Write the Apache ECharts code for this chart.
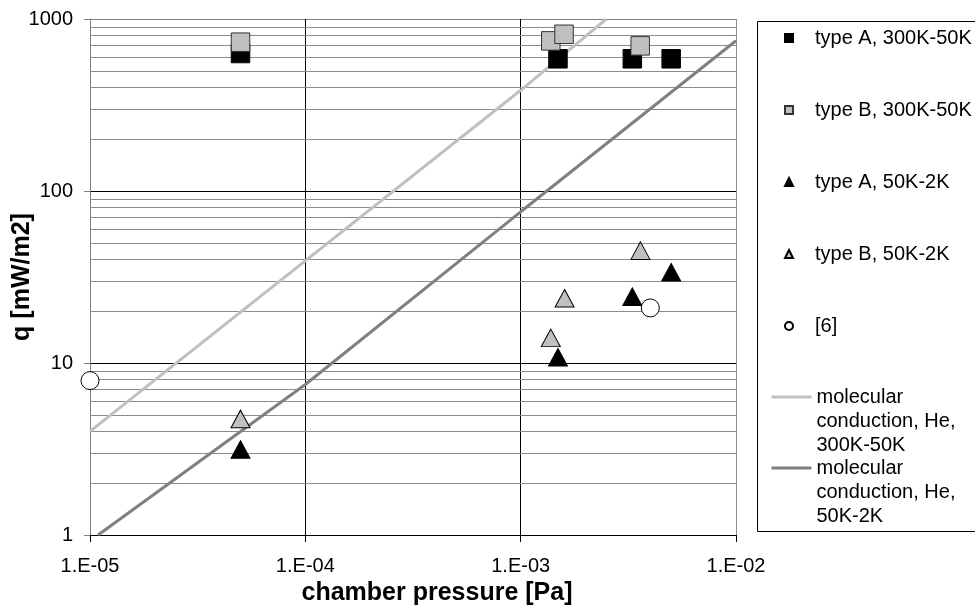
<!DOCTYPE html>
<html><head><meta charset="utf-8">
<script src="https://cdn.jsdelivr.net/npm/echarts@6/dist/echarts.min.js"></script>
<style>html,body{margin:0;padding:0;background:#fff}#c{width:975px;height:605px}</style>
</head><body><div id="c"></div>
<script>
// ---- data ----
const xTickLabels = ['1.E-05', '1.E-04', '1.E-03', '1.E-02'];
const yTickLabels = ['1', '10', '100', '1000'];

const seriesNames = ['type A, 300K-50K', 'type B, 300K-50K', 'type A, 50K-2K', 'type B, 50K-2K', '[6]',
  'molecular conduction, He, 300K-50K', 'molecular conduction, He, 50K-2K'];

const typeA_hot_p = [5.0e-5, 1.49e-3, 3.3e-3, 5.0e-3];
const typeA_hot_q = [630, 587, 587, 587];
const typeB_hot_p = [5.0e-5, 1.38e-3, 1.59e-3, 3.59e-3];
const typeB_hot_q = [733, 746, 815, 698];
const typeA_cold_p = [5.0e-5, 1.49e-3, 3.3e-3, 5.0e-3];
const typeA_cold_q = [3.14, 10.8, 24.3, 33.7];
const typeB_cold_p = [5.0e-5, 1.38e-3, 1.6e-3, 3.6e-3];
const typeB_cold_q = [4.73, 14.0, 23.8, 45];
const ref6_p = [1.0e-5, 4.0e-3];
const ref6_q = [7.9, 20.9];
const molHot_p = [1.0e-5, 1.0e-3, 2.5e-3];
const molHot_q = [4.0, 385, 1000];
const molCold_p = [1.09e-5, 1.0e-4, 1.0e-3, 1.0e-2];
const molCold_q = [1.0, 7.5, 75.7, 747];

// ---- helpers ----
const FONT = '"Liberation Sans", Arial, sans-serif';
const zip = (a, b) => a.map((v, i) => [v, b[i]]);
const minorX = [];
for (let e = -5; e < -2; e++) for (let k = 2; k <= 9; k++) minorX.push(k * Math.pow(10, e));
const minorY = [];
for (let e = 0; e < 3; e++) for (let k = 2; k <= 9; k++) minorY.push(k * Math.pow(10, e));
const minorLines = minorX.map(v => ({ xAxis: v })).concat(minorY.map(v => ({ yAxis: v })));

function scatter(name, p, q, symbol, size, fill, border, z) {
  return {
    type: 'scatter', name, data: zip(p, q), symbol, symbolSize: size, z,
    itemStyle: { color: fill, borderColor: border, borderWidth: 1, opacity: 1 },
    emphasis: { disabled: true }
  };
}

const chart = echarts.init(document.getElementById('c'), null, { renderer: 'canvas' });
// two leading empty lines keep the first text line level with the legend line icon
const lineLegendFmt = n => '\n\n' + n.replace('molecular ', 'molecular\n').replace('He, ', 'He,\n');
const legendText = { fontSize: 20, lineHeight: 24, color: '#000', fontFamily: FONT };
const hiddenSymbol = { color: 'rgba(0,0,0,0)', borderColor: 'rgba(0,0,0,0)', borderWidth: 0 };

chart.setOption({
  animation: false,
  backgroundColor: '#fff',
  textStyle: { fontFamily: FONT },
  grid: { left: 90, top: 19, width: 646, height: 516, containLabel: false, outerBoundsMode: 'none' },
  xAxis: {
    type: 'log', logBase: 10, min: 1e-5, max: 1e-2,
    axisLine: { show: true, lineStyle: { color: '#000', width: 1 } },
    axisTick: { show: true, length: 7, lineStyle: { color: '#000' } },
    axisLabel: {
      fontSize: 20, color: '#000', margin: 21, fontFamily: FONT,
      formatter: v => xTickLabels[Math.round(Math.log10(v)) + 5]
    },
    splitLine: { show: true, lineStyle: { color: ['#808080', '#000', '#000', '#000'], width: 1 } },
    name: 'chamber pressure [Pa]', nameLocation: 'middle', nameGap: 46, nameMoveOverlap: false,
    nameTextStyle: { fontSize: 25, fontWeight: 'bold', color: '#000', fontFamily: FONT, padding: [0, 0, 0, 48] }
  },
  yAxis: {
    type: 'log', logBase: 10, min: 1, max: 1000,
    axisLine: { show: true, lineStyle: { color: '#808080', width: 1 } },
    axisTick: { show: true, length: 6, lineStyle: { color: '#808080' } },
    axisLabel: {
      fontSize: 20, color: '#000', margin: 17, fontFamily: FONT,
      formatter: v => yTickLabels[Math.round(Math.log10(v))]
    },
    splitLine: { show: true, lineStyle: { color: ['#000', '#000', '#000', '#808080'], width: 1 } },
    name: 'q [mW/m2]', nameLocation: 'middle', nameGap: 55, nameMoveOverlap: false,
    nameTextStyle: { fontSize: 25, fontWeight: 'bold', color: '#000', fontFamily: FONT }
  },
  legend: [
    {
      data: seriesNames.slice(0, 5), orient: 'vertical', left: 784, top: 26, padding: 0,
      itemWidth: 8, itemHeight: 8, itemGap: 48, selectedMode: false,
      formatter: n => '{s|}{t|' + n + '}',
      textStyle: Object.assign({}, legendText, {
        rich: { s: { width: 17 }, t: { fontSize: 20, lineHeight: 24, color: '#000', fontFamily: FONT } }
      })
    },
    {
      data: [seriesNames[5]], orient: 'vertical', left: 770, top: 337, padding: 0,
      itemWidth: 40, itemHeight: 14, selectedMode: false, formatter: lineLegendFmt,
      textStyle: legendText, itemStyle: hiddenSymbol, lineStyle: { width: 3 }
    },
    {
      data: [seriesNames[6]], orient: 'vertical', left: 770, top: 408, padding: 0,
      itemWidth: 40, itemHeight: 14, selectedMode: false, formatter: lineLegendFmt,
      textStyle: legendText, itemStyle: hiddenSymbol, lineStyle: { width: 3 }
    }
  ],
  graphic: [{
    type: 'rect', silent: true, z: 0,
    shape: { x: 757.5, y: 21.5, width: 260, height: 510 },
    style: { fill: 'none', stroke: '#000', lineWidth: 1 }
  }],
  series: [
    scatter(seriesNames[0], typeA_hot_p, typeA_hot_q, 'rect', 18.5, '#000', '#000', 3),
    scatter(seriesNames[1], typeB_hot_p, typeB_hot_q, 'rect', 18.5, '#c0c0c0', '#333', 4),
    scatter(seriesNames[2], typeA_cold_p, typeA_cold_q, 'triangle', [19, 17.5], '#000', '#000', 5),
    scatter(seriesNames[3], typeB_cold_p, typeB_cold_q, 'triangle', [19, 17.5], '#c0c0c0', '#000', 6),
    scatter(seriesNames[4], ref6_p, ref6_q, 'circle', 18, '#fff', '#000', 7),
    {
      type: 'line', name: seriesNames[5], data: zip(molHot_p, molHot_q), symbol: 'none', z: 2,
      lineStyle: { color: '#c0c0c0', width: 3 }, itemStyle: { color: '#c0c0c0' },
      emphasis: { disabled: true }
    },
    {
      type: 'line', name: seriesNames[6], data: zip(molCold_p, molCold_q), symbol: 'none', z: 2,
      lineStyle: { color: '#808080', width: 3 }, itemStyle: { color: '#808080' },
      emphasis: { disabled: true },
      markLine: {
        silent: true, z: 1, symbol: 'none', animation: false,
        label: { show: false },
        lineStyle: { color: '#8c8c8c', width: 1, type: 'solid' },
        emphasis: { disabled: true },
        data: minorLines
      }
    }
  ]
});
</script>
</body></html>
